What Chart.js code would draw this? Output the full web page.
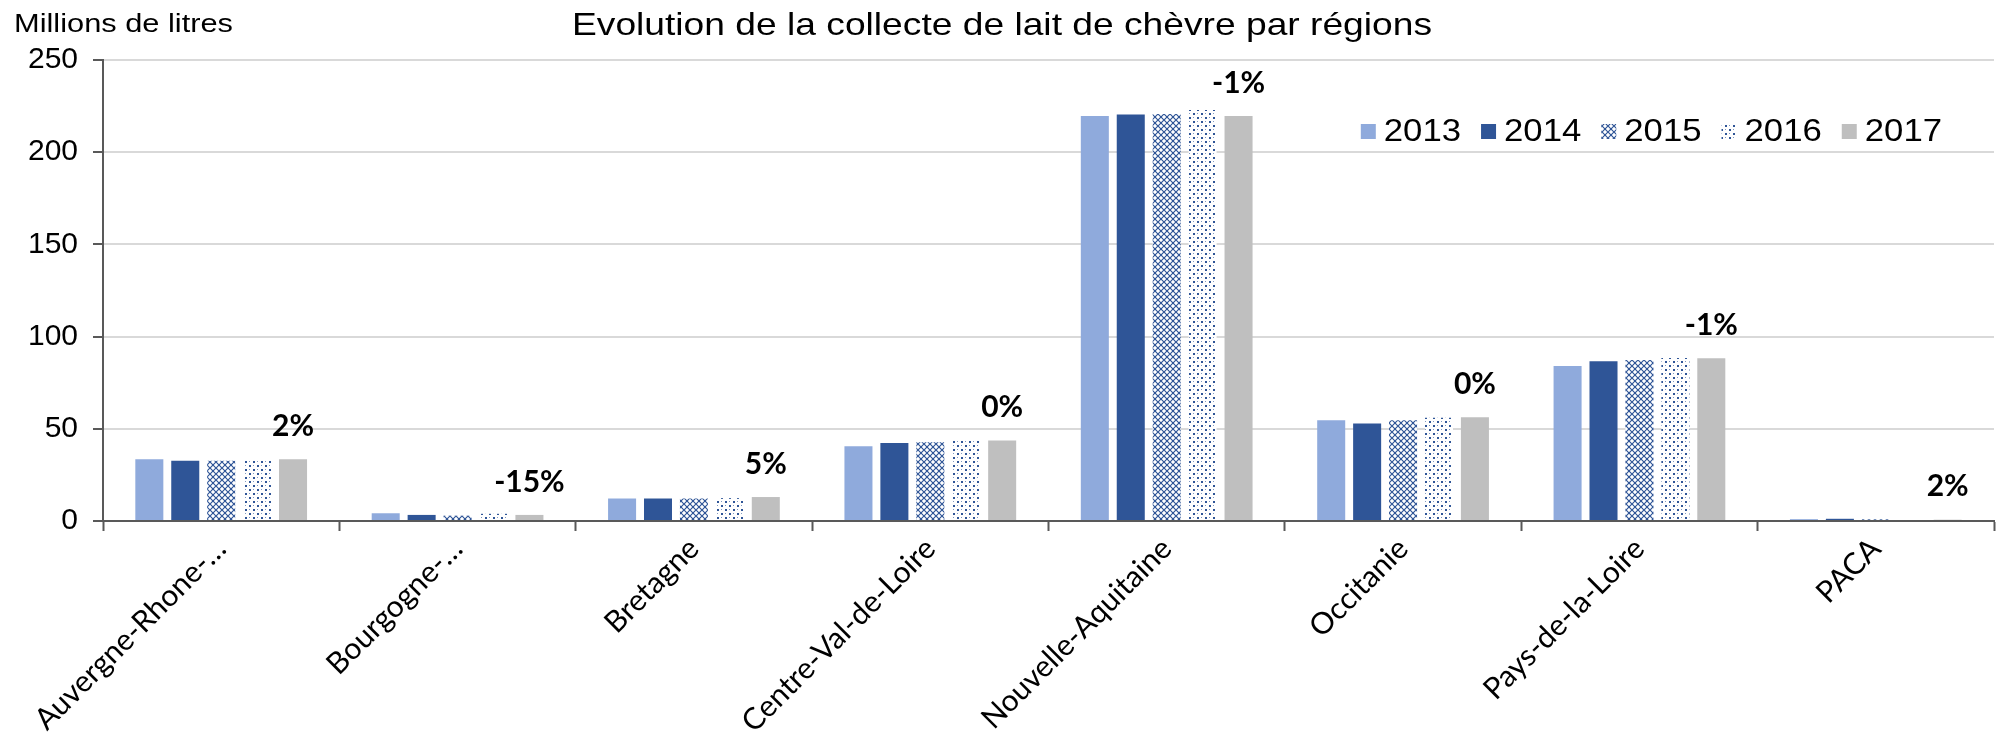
<!DOCTYPE html>
<html>
<head>
<meta charset="utf-8">
<script src="https://cdn.jsdelivr.net/npm/chart.js@4"></script>
<style>
  body { margin: 0; background: #fff; }
  canvas { display: block; }
</style>
</head>
<body>
<canvas id="chart" width="2007" height="743"></canvas>
<script>
// data (millions de litres)
const regions = ["Auvergne-Rhone-…", "Bourgogne-…", "Bretagne", "Centre-Val-de-Loire",
                 "Nouvelle-Aquitaine", "Occitanie", "Pays-de-la-Loire", "PACA"];
const years = ["2013", "2014", "2015", "2016", "2017"];
const v2013 = [33.5, 4.2, 12.2, 40.5, 219.6, 54.6, 84.0, 1.0];
const v2014 = [32.7, 3.3, 12.2, 42.3, 220.5, 52.9, 86.6, 1.2];
const v2015 = [32.7, 2.9, 12.2, 42.7, 220.7, 54.6, 87.3, 0.9];
const v2016 = [32.7, 3.9, 12.4, 43.4, 222.9, 56.0, 88.4, 0.7];
const v2017 = [33.5, 3.3, 13.0, 43.7, 219.6, 56.2, 88.2, 0.7];
const variation = ["2%", "-15%", "5%", "0%", "-1%", "0%", "-1%", "2%"];
const yTicks = [0, 50, 100, 150, 200, 250];

const BLUE_DARK = "#2f5597";

// lattice pattern (2015)
function latticePattern() {
    const c = document.createElement("canvas");
    c.width = 6; c.height = 6;
    const g = c.getContext("2d");
    g.fillStyle = "#fff";
    g.fillRect(0, 0, 6, 6);
    g.strokeStyle = BLUE_DARK;
    g.lineWidth = 1.2;
    g.beginPath();
    g.moveTo(0, 0); g.lineTo(6, 6);
    g.moveTo(6, 0); g.lineTo(0, 6);
    g.stroke();
    g.fillStyle = BLUE_DARK;
    g.fillRect(2, 2, 2, 2);
    return g.createPattern(c, "repeat");
}

// dotted pattern (2016)
function dotPattern() {
    const c = document.createElement("canvas");
    c.width = 8; c.height = 8;
    const g = c.getContext("2d");
    g.fillStyle = "#fff";
    g.fillRect(0, 0, 8, 8);
    g.fillStyle = BLUE_DARK;
    g.fillRect(1, 1, 2, 2);
    g.fillRect(5, 5, 2, 2);
    g.globalAlpha = 0.6;
    g.fillRect(5, 1, 1, 1);
    g.fillRect(1, 5, 1, 1);
    return g.createPattern(c, "repeat");
}

const fills = ["#8faadc", BLUE_DARK, latticePattern(), dotPattern(), "#bfbfbf"];
const series = [v2013, v2014, v2015, v2016, v2017];

// title + unit label, stretched to the widths seen in the picture
function drawStretched(ctx, text, font, x, y, width, align) {
    ctx.save();
    ctx.font = font;
    const w = ctx.measureText(text).width;
    const sx = width / w;
    ctx.translate(align === "center" ? x - width / 2 : x, y);
    ctx.scale(sx, 1);
    ctx.textAlign = "left";
    ctx.textBaseline = "alphabetic";
    ctx.fillStyle = "#000";
    ctx.fillText(text, 0, 0);
    ctx.restore();
}

const decorPlugin = {
    id: "decor",
    afterDraw(chart) {
        const ctx = chart.ctx;
        const area = chart.chartArea;
        drawStretched(ctx, "Evolution de la collecte de lait de chèvre par régions",
            "32px 'Liberation Sans'", 1002, 35, 860, "center");
        drawStretched(ctx, "Millions de litres", "25px 'Liberation Sans'", 14, 32, 219, "left");

        // legend
        ctx.save();
        ctx.font = "31px 'Liberation Sans'";
        ctx.textBaseline = "middle";
        const ly = 131;
        const items = chart.data.datasets.map(ds => ({ label: ds.label, fill: ds.backgroundColor }));
        let x = area.right - 52;
        for (let i = items.length - 1; i >= 0; i--) {
            const tw = ctx.measureText(items[i].label).width * 1.12;
            x -= tw;
            ctx.save();
            ctx.translate(x, ly + 1);
            ctx.scale(1.12, 1);
            ctx.fillStyle = "#000";
            ctx.fillText(items[i].label, 0, 0);
            ctx.restore();
            x -= 8 + 15;
            ctx.fillStyle = items[i].fill;
            ctx.fillRect(x, ly - 7, 15, 15);
            x -= 20;
        }
        ctx.restore();
    },
    afterDatasetsDraw(chart) {
        const ctx = chart.ctx;
        const meta = chart.getDatasetMeta(4);
        ctx.save();
        ctx.font = "bold 30px Lato";
        ctx.textAlign = "center";
        ctx.textBaseline = "middle";
        ctx.fillStyle = "#000";
        meta.data.forEach((bar, i) => {
            ctx.fillText(variation[i], bar.x, bar.y - 33);
        });
        ctx.restore();
    }
};

new Chart(document.getElementById("chart"), {
    type: "bar",
    data: {
        labels: regions,
        datasets: years.map((y, i) => ({
            label: y,
            data: series[i],
            backgroundColor: fills[i],
            borderWidth: 0,
            categoryPercentage: 0.76,
            barPercentage: 0.78
        }))
    },
    options: {
        responsive: false,
        animation: false,
        layout: { padding: { left: 0, right: 13, top: 60, bottom: 0 } },
        plugins: {
            legend: { display: false },
            title: { display: false },
            tooltip: { enabled: false }
        },
        scales: {
            x: {
                grid: { drawOnChartArea: false, tickLength: 10, tickColor: "#595959", tickWidth: 2 },
                border: { color: "#595959", width: 2 },
                ticks: {
                    minRotation: 45, maxRotation: 45, padding: 0,
                    color: "#000",
                    font: { family: "Lato", size: 30 }
                },
                afterFit(scale) { scale.height = 222; }
            },
            y: {
                min: 0, max: 250,
                afterBuildTicks(scale) { scale.ticks = yTicks.map(v => ({ value: v })); },
                grid: { color: "#d9d9d9", lineWidth: 2, tickLength: 10, tickColor: "#595959", tickWidth: 2 },
                border: { color: "#595959", width: 2 },
                ticks: {
                    padding: 15,
                    color: "#000",
                    font: { family: "'Liberation Sans'", size: 30 }
                },
                afterFit(scale) { scale.width = 103; }
            }
        }
    },
    plugins: [decorPlugin]
});
</script>
</body>
</html>
